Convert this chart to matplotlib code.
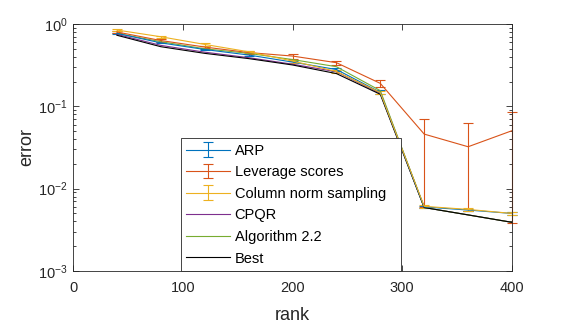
import numpy as np
import matplotlib
matplotlib.use('Agg')
import matplotlib.pyplot as plt

plt.rcParams['font.family'] = ['Liberation Sans', 'DejaVu Sans']
plt.rcParams['mathtext.default'] = 'regular'

# data
ranks = [40, 80, 120, 160, 200, 240, 280, 320, 360, 400]

arp = [0.77, 0.59, 0.49, 0.42, 0.345, 0.28, 0.148, 0.0060, 0.0055, 0.0050]
arp_err = [0.01, 0.01, 0.01, 0.01, 0.01, 0.01, 0.008, 0.0002, 0.0002, 0.0002]

lev = [0.80, 0.63, 0.525, 0.45, 0.408, 0.339, 0.19, 0.046, 0.0323, 0.0506]
lev_lo = [0.02, 0.02, 0.02, 0.02, 0.036, 0.024, 0.02, 0.040, 0.0269, 0.0468]
lev_hi = [0.02, 0.02, 0.02, 0.02, 0.024, 0.019, 0.02, 0.024, 0.0298, 0.0339]

col = [0.845, 0.70, 0.565, 0.46, 0.355, 0.265, 0.147, 0.0061, 0.0056, 0.0050]
col_err = [0.03, 0.02, 0.02, 0.015, 0.015, 0.01, 0.006, 0.0002, 0.0002, 0.0002]

cpqr = [0.75, 0.55, 0.455, 0.39, 0.325, 0.263, 0.144, 0.0059, 0.0048, 0.0039]
alg = [0.77, 0.61, 0.50, 0.44, 0.37, 0.303, 0.155, 0.0059, 0.0048, 0.0039]
best = [0.73, 0.53, 0.44, 0.38, 0.318, 0.25, 0.14, 0.0059, 0.0048, 0.0039]

labels = ['ARP', 'Leverage scores', 'Column norm sampling', 'CPQR',
          'Algorithm 2.2', 'Best']
colors = ['#0072BD', '#D95319', '#EDB120', '#7E2F8E', '#77AC30', 'k']

fig = plt.figure(figsize=(5.64, 3.27), dpi=100)
ax = fig.add_axes([73/564, 56/327, 439/564, 247/327])

lw = 0.8
eb = dict(lw=lw, elinewidth=lw, capsize=3.5, capthick=lw)
h = []
h.append(ax.errorbar(ranks, arp, yerr=arp_err, color=colors[0],
                     label=labels[0], **eb))
h.append(ax.errorbar(ranks, lev, yerr=[lev_lo, lev_hi], color=colors[1],
                     label=labels[1], **eb))
h.append(ax.errorbar(ranks, col, yerr=col_err, color=colors[2],
                     label=labels[2], **eb))
h += ax.plot(ranks, cpqr, color=colors[3], lw=lw, label=labels[3])
h += ax.plot(ranks, alg, color=colors[4], lw=lw, label=labels[4])
h += ax.plot(ranks, best, color=colors[5], lw=lw, label=labels[5])

# error bars at the right edge are not cut by the axes
for c in h[:3]:
    for art in c.lines[1] + c.lines[2]:
        art.set_clip_on(False)

ax.set_yscale('log')
ax.set_xlim(0, 400)
ax.set_ylim(1e-3, 1)
ax.set_xticks([0, 100, 200, 300, 400])
ax.set_yticks([1e-3, 1e-2, 1e-1, 1])

gray = '#262626'
for s in ax.spines.values():
    s.set_color(gray)
    s.set_linewidth(0.6)
ax.tick_params(which='both', direction='in', top=True, right=True,
               colors=gray, labelcolor=gray, labelsize=10.5, width=0.6)
ax.tick_params(which='major', length=4)
ax.tick_params(which='minor', length=2.2)
ax.tick_params(axis='x', pad=7)
ax.tick_params(axis='y', pad=4)

ax.set_xlabel('rank', fontsize=13, color=gray, labelpad=9)
ax.set_ylabel('error', fontsize=13, color=gray, labelpad=2)

# legend box stretched to the MATLAB width
leg = ax.legend(h, labels, loc='lower left', mode='expand',
                bbox_to_anchor=(181/564, 56/327, 220/564, 132/327),
                bbox_transform=fig.transFigure, borderaxespad=0,
                fontsize=10.5, handlelength=3.0, handletextpad=0.3,
                labelspacing=0.52, borderpad=0.37, fancybox=False,
                framealpha=1, edgecolor=gray)
leg.get_frame().set_linewidth(0.6)
leg.set_zorder(5)

fig.savefig('out.png', dpi=100)
